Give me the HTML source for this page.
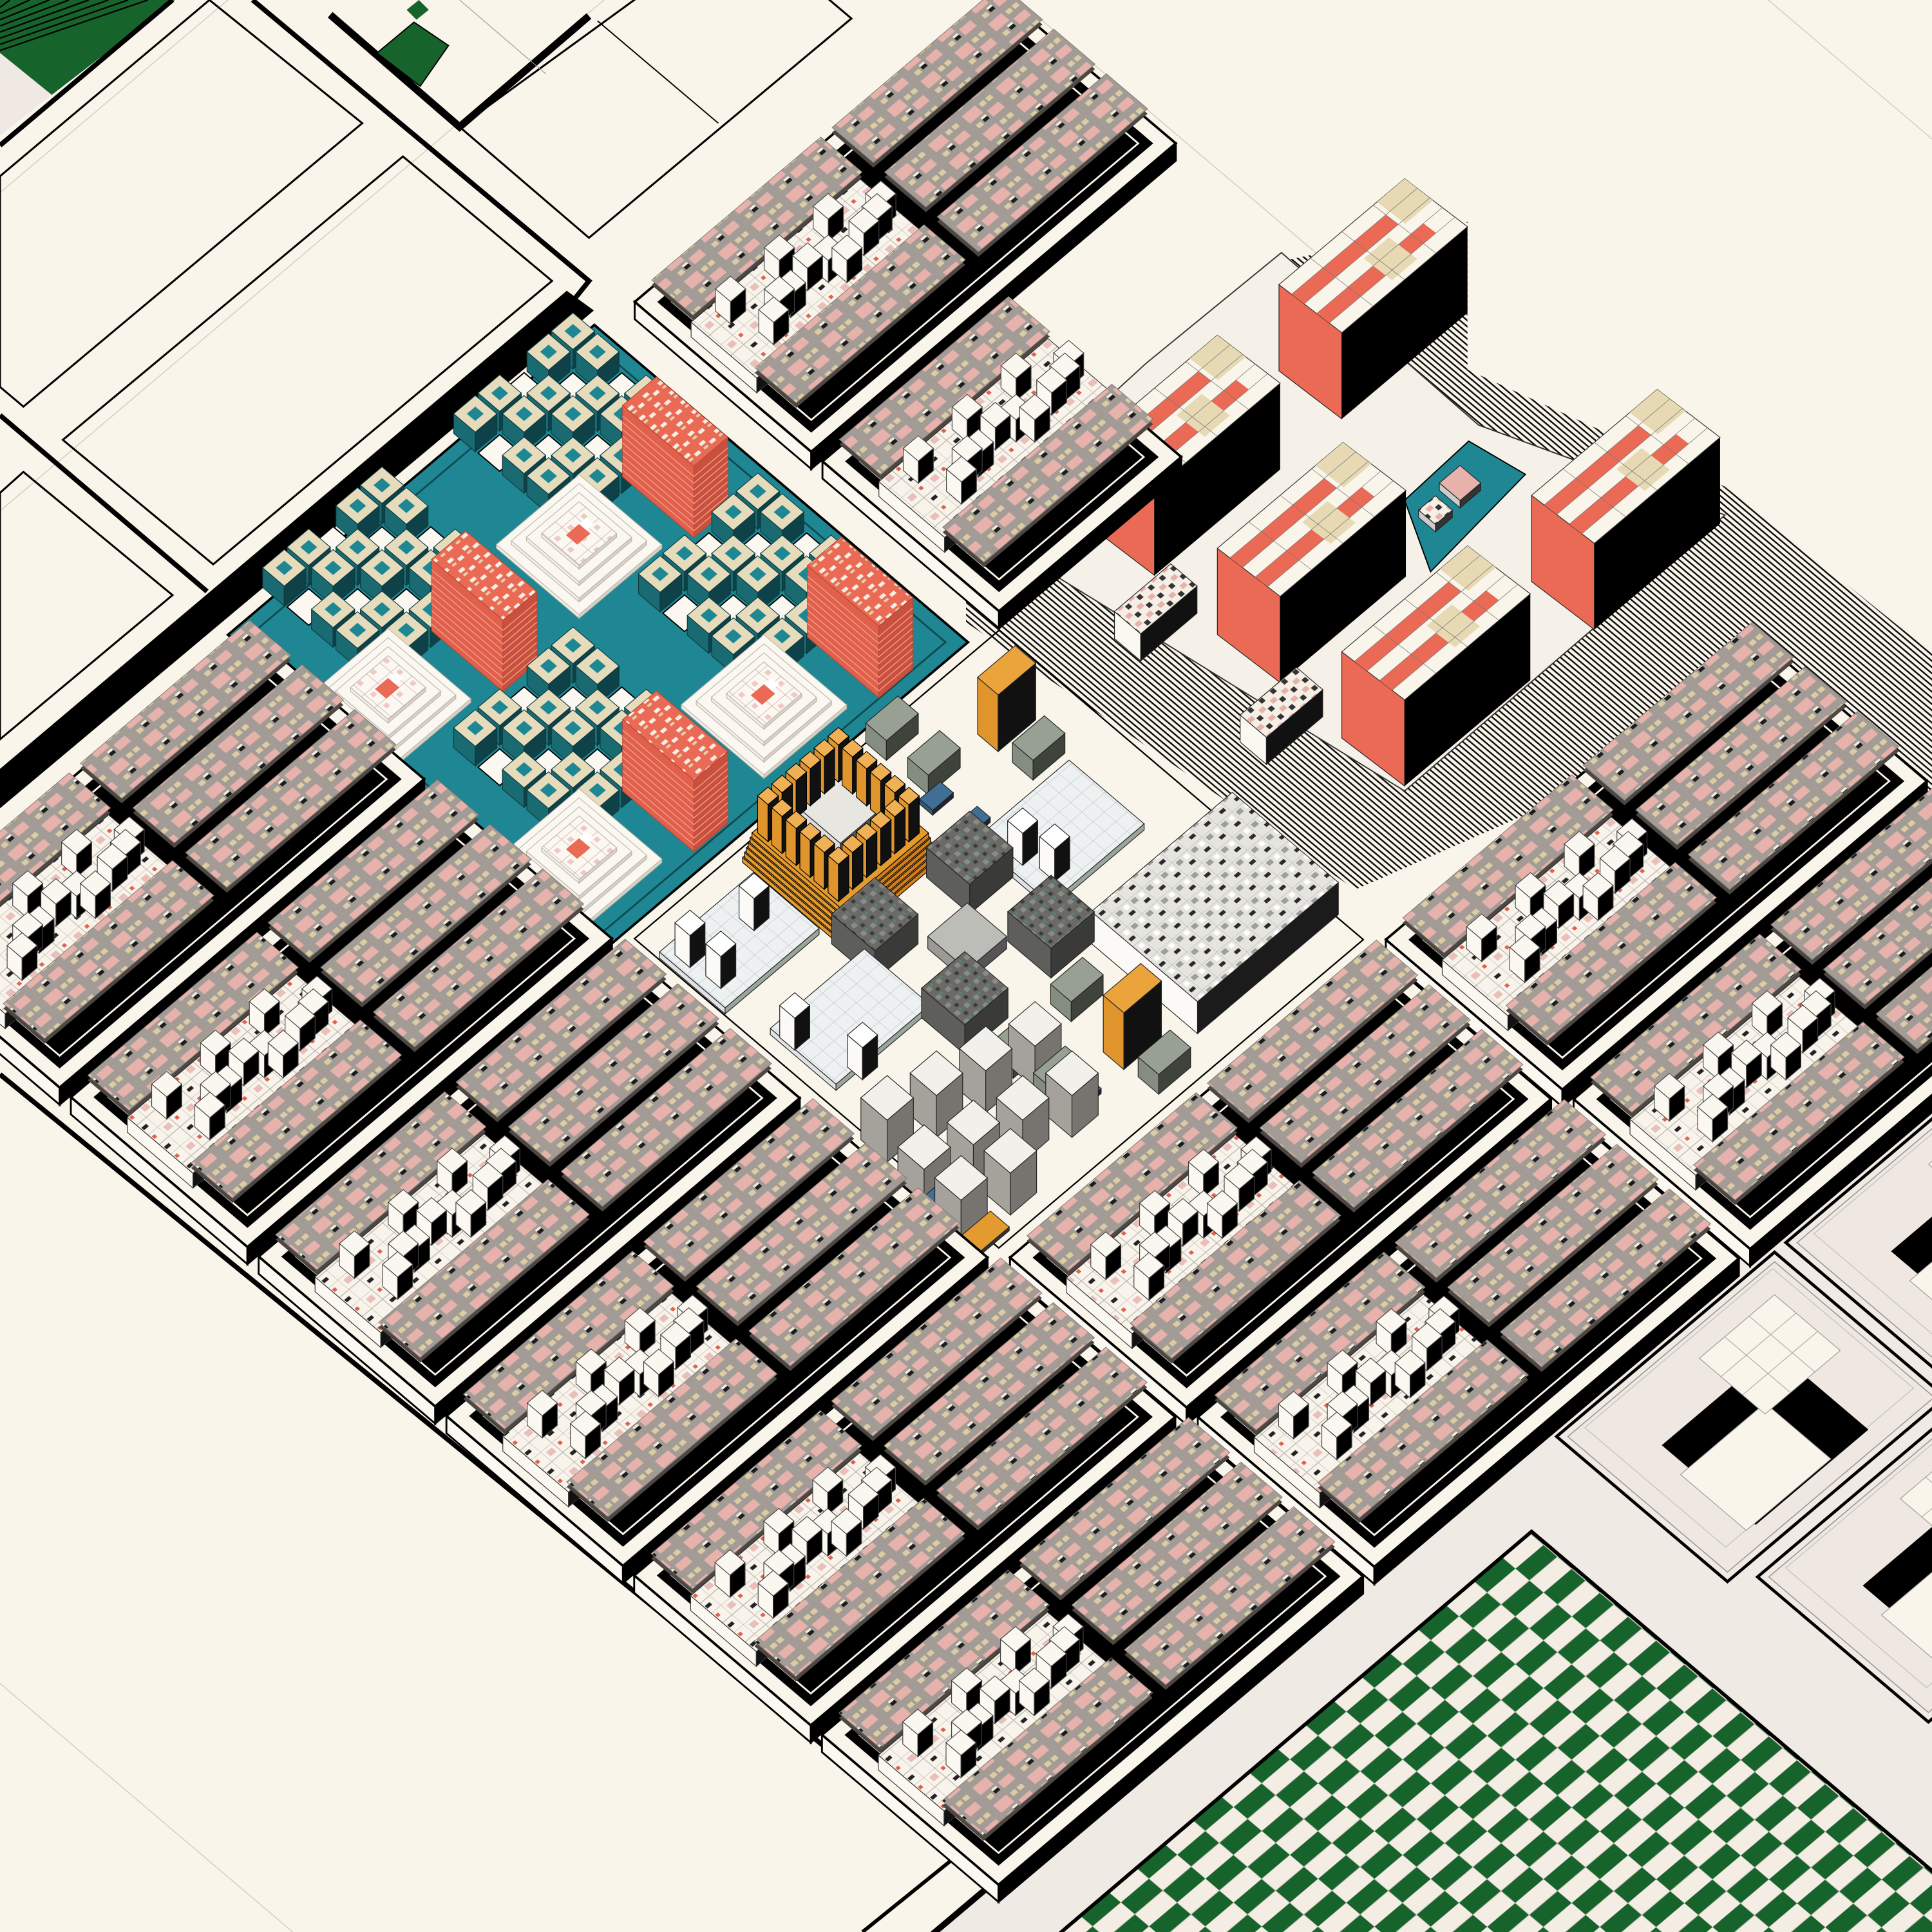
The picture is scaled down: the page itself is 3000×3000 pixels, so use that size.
<!DOCTYPE html>
<html><head><meta charset="utf-8"><style>html,body{margin:0;padding:0;background:#faf5ea;overflow:hidden;width:3000px;height:3000px}svg{display:block}</style></head>
<body>
<svg id="s" xmlns="http://www.w3.org/2000/svg" width="3000" height="3000" viewBox="0 0 1568 1568">
<defs>
<pattern id="sl" width="36" height="22" patternUnits="userSpaceOnUse">
<rect width="36" height="22" fill="#a39c96"/><rect x="2" y="2" width="14" height="9" fill="#e6b2ab"/>
<rect x="19" y="12" width="12" height="7" fill="#e6b2ab"/>
<rect x="19" y="3" width="5" height="4" fill="#dccca3"/><rect x="26" y="3" width="5" height="4" fill="#dccca3"/>
<rect x="4" y="15" width="5" height="4" fill="#dccca3"/><rect x="11" y="13" width="5" height="2" fill="#f4ecdc"/>
<rect x="11" y="15" width="5" height="3" fill="#1c1c1c"/></pattern>
<pattern id="wt" width="24" height="24" patternUnits="userSpaceOnUse">
<rect width="24" height="24" fill="#f8f4ec"/><path d="M0 0H24M0 12H24M0 0V24M12 0V24" stroke="#b9b3aa" stroke-width="0.6"/>
<rect x="3" y="3" width="6" height="5" fill="#e9c0b9"/><rect x="15" y="16" width="5" height="3" fill="#222"/><rect x="15" y="3" width="3" height="3" fill="#e2614c"/></pattern>
<pattern id="gc" width="60" height="30" patternUnits="userSpaceOnUse">
<rect width="60" height="30" fill="#f3ede4"/><rect width="30" height="15" fill="#17632c"/><rect x="30" y="15" width="30" height="15" fill="#17632c"/>
<path d="M0 0H60M0 15H60M0 0V30M30 0V30" stroke="#bdb5aa" stroke-width="0.5"/></pattern>
<pattern id="hu" width="8" height="5" patternUnits="userSpaceOnUse" patternTransform="skewY(40)">
<rect width="8" height="5" fill="#faf5ea"/><rect width="8" height="1.7" fill="#111"/></pattern>
<pattern id="gt" width="16" height="16" patternUnits="userSpaceOnUse">
<rect width="16" height="16" fill="#e6e4de"/><rect x="2" y="2" width="5" height="4" fill="#9aa09a"/><rect x="9" y="9" width="5" height="3" fill="#2a2a2a"/><rect x="10" y="2" width="4" height="4" fill="#fff"/><path d="M0 0H16M0 0V16" stroke="#aaa" stroke-width="0.5"/></pattern>
<pattern id="dk" width="10" height="10" patternUnits="userSpaceOnUse">
<rect width="10" height="10" fill="#6a6a66"/><rect x="1" y="1" width="4" height="4" fill="#8b8b86"/><rect x="6" y="6" width="3" height="3" fill="#3c3c3a"/><rect x="6" y="1" width="2" height="2" fill="#4f8a7c"/></pattern>
<pattern id="wb" width="12" height="12" patternUnits="userSpaceOnUse">
<rect width="12" height="12" fill="#eef1f2"/><path d="M0 0H12M0 0V12" stroke="#b8c0c4" stroke-width="0.6"/></pattern>
<pattern id="pk" width="14" height="14" patternUnits="userSpaceOnUse">
<rect width="14" height="14" fill="#fbf8f1"/><path d="M0 0H14M0 0V14" stroke="#c9a9a3" stroke-width="0.8"/><rect x="3" y="3" width="4" height="4" fill="#eecac4"/></pattern>
<pattern id="rt" width="16" height="12" patternUnits="userSpaceOnUse">
<rect width="16" height="12" fill="#ea6a55"/><rect x="2" y="2" width="5" height="3" fill="#f6efe0"/><rect x="9" y="6" width="5" height="3" fill="#f6efe0"/><rect x="2" y="7" width="4" height="2" fill="#e2d4ad"/></pattern>
<pattern id="pw" width="12" height="10" patternUnits="userSpaceOnUse">
<rect width="12" height="10" fill="#f6efe6"/><rect x="1" y="1" width="5" height="4" fill="#e6b2ab"/><rect x="7" y="5" width="4" height="4" fill="#333"/></pattern>
</defs>
<rect width="1568" height="1568" fill="#faf5ea"/>
<g id="root"></g>
</svg>
<script>
(function(){
const a=0.7625,b=-0.645,c=0.762,d=0.647,O=[658,1408];
const MT=`matrix(${a} ${b} ${c} ${d} ${O[0]} ${O[1]})`;
function S(x,y,z){z=z||0;return [O[0]+a*x+c*y,O[1]+b*x+d*y-z];}
function L(X,Y){const dx=X-O[0],dy=Y-O[1],det=a*d-c*b;return [(d*dx-c*dy)/det,(-b*dx+a*dy)/det];}
function ps(p){return p.map(q=>q[0].toFixed(1)+','+q[1].toFixed(1)).join(' ');}
function poly(p,f,st,sw){return `<polygon points="${ps(p)}" fill="${f}"${st?` stroke="${st}" stroke-width="${sw||1}"`:''}/>`;}
function line(p,st,sw){return `<polyline points="${ps(p)}" fill="none" stroke="${st}" stroke-width="${sw}"/>`;}
function rectL(x,y,w,h,z,f,ex){return `<g transform="translate(0,${-z}) ${MT}"><rect x="${x}" y="${y}" width="${w}" height="${h}" fill="${f}" ${ex||''}/></g>`;}
function box(x,y,w,dd,e,h,tp,lf,rt,st){st=st||'#222';let s='';
 s+=poly([S(x,y,e),S(x,y+dd,e),S(x,y+dd,e+h),S(x,y,e+h)],lf,st,0.6);
 s+=poly([S(x,y+dd,e),S(x+w,y+dd,e),S(x+w,y+dd,e+h),S(x,y+dd,e+h)],rt,st,0.6);
 s+=rectL(x,y,w,dd,e+h,tp,`stroke="${st}" stroke-width="0.6"`);return s;}
function boxC(X,Y,w,dd,h,tp,lf,rt,e,st){const l=L(X,Y);return box(l[0]-w/2,l[1]-dd/2,w,dd,e||0,h,tp,lf,rt,st);}
let out='';
let tl='';
for(const x of [-1200,-800,-400,1200,1600,2000]) tl+=line([S(x,-2500),S(x,2500)],'#cfc8bd',0.7);
for(const y of [-1400,-1200,600,800,1000,1300]) tl+=line([S(-2500,y),S(2500,y)],'#cfc8bd',0.7);
out+=tl;
out+=poly([[0,0],[142,0],[42,77],[0,43]],'#17632c');
for(let k=0;k<8;k++){out+=line([[0,6+k*5],[8+k*16,0]],'#000',1.2);}
out+=poly([[0,43],[42,77],[0,110]],'#efe8e3');
out+=line([[0,118],[140,0]],'#000',4);
out+=poly([[0,143],[170,0],[294,100],[19,330],[0,314]],'none','#000',1.6);
out+=poly([[327,127],[448,228],[173,458],[51,357]],'none','#000',1.6);
out+=line([[205,0],[478,228],[462,248]],'#000',4);
out+=line([[0,337],[168,480]],'#000',4);
out+=poly([[0,400],[19,383],[140,483],[0,600]],'none','#000',1.6);
out+=line([[268,12],[373,103],[478,13]],'#000',6);
out+=poly([[373,103],[478,193],[691,15],[600,-62]],'none','#000',1.6);
out+=line([[485,17],[583,100]],'#000',1);
out+=poly([[306,43],[336,18],[364,37],[341,70]],'#17632c','#000',1);
out+=poly([[330,8],[340,0],[348,8],[338,16]],'#17632c');
out+=line([[373,0],[443,60]],'#999',0.6);
out+=poly([[0,624],[460,236],[482,252],[0,656]],'#000');
out+=line([[0,872],[785,1512]],'#000',4);
out+=`<g transform="${MT}"><rect x="-700" y="190" width="2200" height="1200" fill="#f0eae4"/></g>`;
out+=line([S(-700,190),S(1500,190)],'#000',5);
out+=line([[700,1568],[778,1505]],'#000',3);
{const gp=[[859,1570],[1243,1243],[1570,1520],[1570,1570]].map(p=>L(p[0],p[1]));
 out+=`<g transform="${MT}"><polygon points="${ps(gp)}" fill="url(#gc)" stroke="#000" stroke-width="3"/></g>`;}
function panel(x,y){let s='';
 s+=rectL(x-6,y-6,232,182,0,'none','stroke="#000" stroke-width="2.5"');
 s+=rectL(x,y,220,170,0,'#efe8e2','stroke="#9a948c" stroke-width="0.8"');
 s+=rectL(x+10,y+8,200,150,6,'#efe8e2','stroke="#bbb" stroke-width="0.6"');
 s+=rectL(x+40,y+60,120,100,6,'#000');
 s+=rectL(x+30,y+90,90,70,8,'#faf5ea','stroke="#999" stroke-width="0.6"');
 s+=rectL(x+110,y+30,80,70,12,'#faf5ea','stroke="#999" stroke-width="0.6"');
 s+=`<g transform="translate(0,-12) ${MT}"><path d="M${x+110} ${y+53}h80M${x+110} ${y+76}h80M${x+137} ${y+30}v70M${x+163} ${y+30}v70" stroke="#aaa" stroke-width="0.6"/></g>`;
 return s;}
out+=panel(591,215)+panel(835,20)+panel(835,215)+panel(610,410);
out+=poly([[784,418],[1040,212],[1191,180],[1191,300],[1400,395],[1568,530],[1568,720],[1400,590],[1100,722],[784,505]],'url(#hu)');
out+=poly([[788,425],[930,295],[1040,205],[1200,345],[1400,418],[1140,642]],'#f6f1e8','#333',1);
for(const q of [[960,300],[1000,330],[1060,370],[900,470],[940,500],[1050,560],[1090,590],[1230,480],[1280,520],[1180,520]]){
 out+=boxC(q[0],q[1],14,14,1,'#e8dcb5','#e8dcb5','#e8dcb5','#d9cfae');}
out+=poly([[1140,406],[1192,358],[1238,385],[1161,464]],'#1e8793','#000',1);
out+=boxC(1185,398,22,22,6,'#e6b2ab','#ccc','#333')+boxC(1165,420,18,18,6,'url(#pw)','#ccc','#333');
function tower(Lx,Ly,h){const V=[102,-86],U=[51,39];
 const Q=(u,v)=>[Lx+U[0]*u+V[0]*v,Ly+U[1]*u+V[1]*v];
 let s='';
 s+=poly([Q(0,0),Q(1,0),[Q(1,0)[0],Q(1,0)[1]+h],[Lx,Ly+h]],'#ea6a55','#222',0.6);
 s+=poly([Q(1,0),Q(1,1),[Q(1,1)[0],Q(1,1)[1]+h],[Q(1,0)[0],Q(1,0)[1]+h]],'#000');
 s+=poly([Q(0,0),Q(0,1),Q(1,1),Q(1,0)],'#faf5ea','#333',0.6);
 s+=poly([Q(0.2,0),Q(0.2,0.75),Q(0.4,0.75),Q(0.4,0)],'#ea6a55');
 s+=poly([Q(0.6,0),Q(0.6,0.45),Q(0.8,0.45),Q(0.8,0)],'#ea6a55');
 s+=poly([Q(0.6,0.6),Q(0.6,0.85),Q(0.8,0.85),Q(0.8,0.6)],'#ea6a55');
 s+=poly([Q(0,0.78),Q(0,1),Q(0.45,1),Q(0.45,0.78)],'#e6d9b3');
 s+=poly([Q(0.45,0.45),Q(0.45,0.65),Q(0.9,0.65),Q(0.9,0.45)],'#e6d9b3');
 for(const u of [0.2,0.4,0.6,0.8]) s+=line([Q(u,0),Q(u,1)],'#777',0.4);
 for(const v of [0.25,0.5,0.75]) s+=line([Q(0,v),Q(1,v)],'#777',0.4);
 return s;}
out+=boxC(838,430,60,28,22,'url(#pw)','#fbf8f1','#111');
out+=tower(1038,231,70)+tower(886,358,70)+tower(1243,402,70);
out+=boxC(938,508,60,28,22,'url(#pw)','#fbf8f1','#111');
out+=tower(988,445,70);
out+=boxC(1040,592,60,28,22,'url(#pw)','#fbf8f1','#111');
out+=tower(1089,529,70);
function slab(x,y,w,h){return rectL(x,y,w,h,15,'#4d4743')+rectL(x,y,w,h,19,'url(#sl)','stroke="#7d7670" stroke-width="0.5"');}
function sb(i,j,full){const x0=400*j,y0=200*i;let s='';const W=full?388:194,H=188,X=x0+6,Y=y0+6;
 s+=poly([S(X,Y),S(X,Y+H),S(X,Y+H,-14),S(X,Y,-14)],'#fbf8f1','#000',1.5);
 s+=poly([S(X,Y+H),S(X+W,Y+H),S(X+W,Y+H,-14),S(X,Y+H,-14)],'#000','#000',1.5);
 s+=rectL(X,Y,W,H,0,'#faf5ea','stroke="#000" stroke-width="2"');
 s+=rectL(X+12,Y+12,W-24,H-24,0,'#000');
 s+=rectL(X+20,Y+20,W-40,H-40,0,'none','stroke="#faf5ea" stroke-width="1.5"');
 if(full){const xr=x0+206;for(const yy of [16,72,128]) s+=slab(xr,y0+yy,180,44);}
 const xh=x0+14;
 s+=slab(xh,y0+16,180,44);
 s+=box(xh,y0+58,180,70,0,12,'url(#wt)','#fbf8f1','#111','#333');
 const cubes=[];for(let k=0;k<6;k++){cubes.push([xh+20+k*26,y0+64+(k%2)*26]);cubes.push([xh+30+k*26,y0+100-(k%3)*8]);}
 cubes.sort((p,q)=>S(p[0],p[1])[1]-S(q[0],q[1])[1]);
 for(const p of cubes) s+=box(p[0],p[1],16,16,12,18,'#faf7f0','#fbf8f1','#000','#444');
 s+=slab(xh,y0+126,180,44);
 return s;}
const topSB=[[-5,2,1],[-4,2,0]];
for(const t of topSB) out+=sb(t[0],t[1],t[2]);
out+=rectL(380,-1001,390,398,0,'#1e8793','stroke="#000" stroke-width="2"');
out+=rectL(392,-989,366,374,0,'none','stroke="#0f4a50" stroke-width="1.5"');
function cluster(X,Y){let s='';const l=L(X,Y);const x0=l[0]-65,y0=l[1]-62;
 const items=[];
 for(let A=0;A<5;A++)for(let B=0;B<5;B++){items.push([x0+A*26,y0+B*26,(A*2+B)%3!=1]);}
 items.sort((p,q)=>S(p[0],p[1])[1]-S(q[0],q[1])[1]);
 for(const it of items){
  if(it[2]){s+=box(it[0],it[1],23,23,0,16,'#e6dcbc','#1a6a72','#0e4248','#0b3a3f');s+=rectL(it[0]+7,it[1]+7,9,9,16,'#1e8793');}
  else s+=rectL(it[0],it[1],23,23,1,'#fbf8f1','stroke="#000" stroke-width="1"');}
 const r=L(X+83,Y+50);const rx=r[0]-18,ry=r[1]-38;
 s+=box(rx,ry,36,76,0,58,'url(#rt)','#e1604b','#c9503d','#b84634');
 for(let k=1;k<10;k++) s+=line([S(rx,ry,k*5.5),S(rx,ry+76,k*5.5),S(rx+36,ry+76,k*5.5)],'#f3a091',0.7);
 const p=L(X+5,Y+95);
 for(let k=0;k<4;k++){const m=k*8;s+=box(p[0]-44+m,p[1]-44+m,88-2*m,88-2*m,k*3,3,k==3?'url(#pk)':'#fbf8f1','#f4efe6','#d8d2c8','#bdb6ad');}
 s+=rectL(p[0]-8,p[1]-6,14,12,12,'#ea6a55');s+=rectL(p[0]+6,p[1]-6,8,8,12,'#fff');
 return s;}
out+=cluster(465,350)+cluster(310,475)+cluster(615,480)+cluster(465,605);
out+=rectL(406,-594,388,388,0,'none','stroke="#000" stroke-width="1.2"');
const CI=[];
function addC(X,Y,fn){CI.push([Y,fn]);}
addC(600,740,()=>boxC(600,768,100,70,5,'url(#wb)','#dfe3e3','#9aa59c'));
addC(690,800,()=>boxC(690,830,100,70,5,'url(#wb)','#dfe3e3','#9aa59c'));
addC(860,650,()=>boxC(860,680,100,80,5,'url(#wb)','#dfe3e3','#9aa59c'));
for(const q of [[560,775],[585,792],[645,842],[700,866],[830,692],[856,705],[612,745]]) addC(q[0],q[1],()=>boxC(q[0],q[1],16,16,26,'#fff','#fbfaf6','#111'));
for(const q of [[724,599],[758,627],[843,615],[827,857],[860,883],[945,870],[874,811]]) addC(q[0],q[1],()=>boxC(q[0],q[1],34,22,16,'#98a094','#858d81','#3e433b'));
for(const q of [[760,650],[790,670],[880,890]]) addC(q[0],q[1],()=>boxC(q[0],q[1],22,14,4,'#3f6f94','#2f5a7a','#223'));
addC(986,754,()=>boxC(986,754,150,113,26,'url(#gt)','#fbfaf6','#1b1b1b'));
addC(817,590,()=>boxC(817,590,40,22,46,'#eaa43b','#e0952c','#111'));
addC(919,848,()=>boxC(919,848,40,22,46,'#eaa43b','#e0952c','#111'));
for(const q of [[787,712],[710,766],[853,764],[783,826]]) addC(q[0],q[1],()=>boxC(q[0],q[1],46,46,24,'url(#dk)','#5e5e5b','#3a3a38'));
addC(785,770,()=>boxC(785,770,42,42,10,'#bdbdb8','#9a9a96','#555'));
for(const q of [[720,925],[760,905],[800,885],[840,865],[750,965],[790,945],[830,925],[870,905],[780,990],[820,968]]) addC(q[0],q[1],()=>boxC(q[0],q[1],28,28,34,'#f2f0ea','#a5a29c','#77746f'));
addC(800,1000,()=>boxC(800,1002,30,20,3,'#e39a2e','#c98420','#333'));
addC(760,975,()=>boxC(760,977,26,18,3,'#3f6f94','#2f5a7a','#223'));
addC(682,700,()=>{let s='';const l=L(682,700);const x=l[0]-52,y=l[1]-52;
 for(let k=0;k<6;k++) s+=box(x+k,y+k,104-2*k,104-2*k,k*4,4,'#e39a2e','#e39a2e','#d27f1c','#000');
 const pl=[];for(let t=0;t<6;t++){pl.push([x+8+t*15,y+8]);pl.push([x+8,y+8+t*15]);pl.push([x+8+t*15,y+83]);pl.push([x+83,y+8+t*15]);}
 s+=box(x+30,y+30,44,44,24,20,'#e8e6e0','#ddd','#555');
 pl.sort((p,q)=>S(p[0],p[1])[1]-S(q[0],q[1])[1]);
 for(const p of pl) s+=box(p[0],p[1],11,11,24,30,'#f0b054','#e0952c','#111','#000');
 return s;});
CI.sort((p,q)=>p[0]-q[0]);
for(const it of CI) out+=it[1]();
const rest=[[-5,0],[-4,0],[-3,0],[-2,0],[-1,0],[0,0],[-1,1],[0,1],[-1,2],[0,2]];
rest.sort((p,q)=>S(400*p[1]+200,200*p[0]+100)[1]-S(400*q[1]+200,200*q[0]+100)[1]);
for(const r of rest) out+=sb(r[0],r[1],1);
document.getElementById('root').innerHTML=out;
})();
</script>
</body></html>
